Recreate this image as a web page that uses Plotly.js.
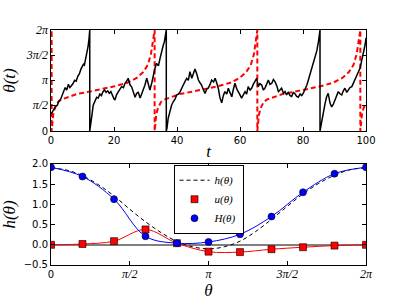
<!DOCTYPE html>
<html>
<head>
<meta charset="utf-8">
<script src="https://cdn.plot.ly/plotly-3.0.1.min.js"></script>
<style>
html,body{margin:0;padding:0;background:#fff;}
#chart{width:407px;height:305px;}
</style>
</head>
<body>
<div id="chart"></div>
<script>
// ---------- top panel: theta(t) ----------
const tBlack = [0,0.5,1.0,1.5,2.0,2.5,3.0,3.5,4.0,4.5,5.0,5.5,6.0,6.5,7.0,7.5,8.0,8.5,9.0,9.5,10.0,10.3,10.6,11.0,11.4,11.8,12.1,12.3,
  12.3,12.6,13.0,13.4,14.0,14.5,15.0,15.5,16.0,16.5,17.0,17.5,18.0,18.5,19.0,19.5,20.0,20.3,20.8,21.4,22.0,22.4,23.0,23.5,24.0,24.5,25.1,25.6,26.1,26.7,27.2,27.7,28.3,28.8,29.3,29.8,30.4,30.9,31.4,32.0,32.5,33.0,33.5,34.1,34.6,35.1,35.6,36.0,36.3,36.6,
  36.6,36.8,37.2,37.8,38.3,38.8,39.4,39.9,40.5,41.0,41.5,42.0,42.6,43.1,43.6,44.1,44.7,45.2,45.7,46.2,46.8,47.3,47.8,48.4,48.9,49.4,49.9,50.5,51.0,51.6,52.1,52.6,53.1,53.6,54.2,54.7,55.2,55.8,56.3,56.8,57.4,57.9,58.4,59.0,59.5,60.0,60.5,61.1,61.6,62.1,62.6,63.2,63.7,64.2,64.8,65.3,65.8,66.3,66.9,67.4,67.9,68.5,69.0,69.5,70.1,70.6,71.1,71.7,72.2,72.7,73.2,73.8,74.3,74.8,75.3,75.9,76.4,76.9,77.5,78.0,78.5,79.1,79.6,80.1,80.6,81.2,81.7,82.2,82.8,83.3,83.8,84.4,84.9,85.2,85.4,
  85.4,85.7,86.1,86.5,87.0,87.5,88.0,88.6,89.1,89.6,90.2,90.7,91.2,91.8,92.3,92.8,93.3,93.9,94.4,94.9,95.5,96.0,96.5,97.1,97.6,98.1,98.6,99.1,99.7,100];
const thetaBlack = [1.05,1.25,1.35,1.55,1.6,1.85,1.95,2.2,2.45,2.7,2.55,2.9,2.7,2.8,2.95,3.15,3.1,3.4,3.55,3.85,4.0,4.15,4.1,4.5,4.85,5.3,5.8,6.28,
  0,0.35,1.0,1.6,1.9,2.1,2.05,2.3,2.2,2.45,2.55,2.4,2.5,2.35,2.45,2.2,2.0,1.93,2.25,2.45,2.6,2.76,2.7,2.97,3.1,3.28,2.86,2.75,2.45,2.1,2.35,2.4,2.05,2.3,2.55,2.85,3.28,2.9,2.55,3.0,3.5,3.9,4.21,4.05,4.5,5.0,5.3,5.56,5.9,6.28,
  0,0.17,0.79,1.31,1.62,1.82,2.0,2.24,2.3,2.45,2.7,2.86,3.1,3.28,3.15,3.69,3.28,3.6,3.85,3.6,3.17,3.0,2.86,2.55,2.34,2.6,2.66,2.9,3.17,3.05,3.28,3.0,2.66,2.1,1.75,2.2,2.45,2.3,2.66,2.4,2.13,2.6,2.97,2.6,2.45,2.25,2.05,2.3,2.45,2.3,2.76,2.55,2.66,2.9,3.07,3.28,2.76,2.95,2.86,2.55,2.66,2.9,3.17,2.9,2.97,3.2,3.07,2.8,2.45,2.55,2.66,2.35,2.45,2.25,2.4,2.2,2.15,2.4,2.3,2.15,2.1,2.3,2.2,2.35,2.55,2.85,3.17,3.5,3.9,4.2,4.52,5.0,5.56,5.95,6.28,
  0,0.37,0.8,1.2,1.7,2.13,2.34,1.72,1.5,1.65,2.0,2.2,2.45,2.3,2.24,2.5,2.66,2.4,2.55,2.7,2.76,3.0,3.28,3.5,3.69,3.9,4.31,4.7,5.35,5.8];
const tRed = [0,0.2,0.2,0.4,0.7,1.2,2.2,3.2,5.2,8.2,12.2,16.2,20.2,24.2,27.2,29.2,30.7,31.7,32.4,32.9,
  32.9,33.1,33.4,33.9,34.9,35.9,37.9,40.9,44.9,48.9,52.9,56.9,59.9,61.9,63.4,64.4,65.1,65.5,
  65.5,65.7,66.0,66.5,67.5,68.5,70.5,73.5,77.5,81.5,85.5,89.5,92.5,94.5,96.0,97.0,97.7,98.2,
  98.2,98.4,98.7,99.2,100];
const thetaRed = [5.9,6.28,0,0.5,1.0,1.4,1.8,1.95,2.1,2.3,2.45,2.6,2.78,3.0,3.3,3.65,4.1,4.75,5.6,6.28,
  0,0.5,1.0,1.4,1.8,1.95,2.1,2.3,2.45,2.6,2.78,3.0,3.3,3.65,4.1,4.75,5.6,6.28,
  0,0.5,1.0,1.4,1.8,1.95,2.1,2.3,2.45,2.6,2.78,3.0,3.3,3.65,4.1,4.75,5.6,6.28,
  0,0.5,1.0,1.4,1.75];
const tTicks = [0,20,40,60,80,100];

// ---------- bottom panel: h(theta) ----------
const thetaFine = [0,0.314,0.628,0.942,1.257,1.571,1.885,2.199,2.513,2.827,3.142,3.456,3.770,4.084,4.398,4.712,5.027,5.341,5.655,5.969,6.283];
const hVals = [1.90,1.85,1.71,1.49,1.21,0.88,0.57,0.30,0.08,-0.05,-0.10,-0.05,0.09,0.33,0.63,0.95,1.26,1.52,1.72,1.86,1.90];
const thetaPts = [0,0.628,1.257,1.885,2.513,3.142,3.770,4.398,5.027,5.655,6.283];
const uVals = [0.0,0.02,0.09,0.38,0.04,-0.17,-0.18,-0.11,-0.06,-0.02,0.0];
const HVals = [1.92,1.69,1.13,0.21,0.04,0.07,0.26,0.70,1.30,1.76,1.92];
const piTickVals = [0,1.5708,3.1416,4.7124,6.2832];
const piTickText = ['0','π/2','π','3π/2','2π'];

const serif = '"Liberation Serif", "DejaVu Serif", serif';
const sans = '"DejaVu Sans", sans-serif';
const mathTick = s => s === '0' ? s : '<span style="font-family:Liberation Serif;font-style:italic;font-size:12px">' + s + '</span>';

const traces = [
  {x: tRed, y: thetaRed, xaxis: 'x', yaxis: 'y', mode: 'lines', showlegend: false,
   line: {color: '#ff0000', width: 2, dash: '5px,3px'}},
  {x: tBlack, y: thetaBlack, xaxis: 'x', yaxis: 'y', mode: 'lines', showlegend: false,
   line: {color: '#000000', width: 1.5}},
  {x: thetaFine, y: hVals, xaxis: 'x2', yaxis: 'y2', mode: 'lines', name: 'h(θ)',
   line: {color: '#000000', width: 1, dash: '4px,3px', shape: 'spline'}},
  {x: thetaPts, y: uVals, xaxis: 'x2', yaxis: 'y2', mode: 'lines', showlegend: false,
   line: {color: '#ff0000', width: 1, shape: 'spline'}},
  {x: thetaPts, y: uVals, xaxis: 'x2', yaxis: 'y2', mode: 'markers', name: 'u(θ)',
   marker: {symbol: 'square', size: 7, color: '#ff0000', line: {color: '#000000', width: 0.6}}},
  {x: thetaPts, y: HVals, xaxis: 'x2', yaxis: 'y2', mode: 'lines', showlegend: false,
   line: {color: '#0000ff', width: 1, shape: 'spline'}},
  {x: thetaPts, y: HVals, xaxis: 'x2', yaxis: 'y2', mode: 'markers', name: 'H(θ)',
   marker: {symbol: 'circle', size: 7, color: '#0000ff', line: {color: '#000000', width: 0.6}}}
];

const axBase = {
  showgrid: false, zeroline: false, showline: true, linecolor: '#000', linewidth: 1,
  mirror: 'ticks', ticks: 'inside', ticklen: 4, tickwidth: 1, tickcolor: '#000',
  tickfont: {family: sans, size: 10, color: '#000'}
};

const layout = {
  width: 407, height: 305,
  margin: {l: 51, r: 41, t: 30, b: 40},
  paper_bgcolor: '#fff', plot_bgcolor: '#fff',
  showlegend: true,
  xaxis: Object.assign({}, axBase, {domain: [0, 1], anchor: 'y', range: [0, 100],
    tickvals: tTicks, ticktext: tTicks.map(String),
    title: {text: 't', font: {family: serif, size: 17, style: 'italic', color: '#000'}, standoff: 0}}),
  yaxis: Object.assign({}, axBase, {domain: [0.5702, 1], anchor: 'x', range: [0, 6.2832],
    tickvals: piTickVals, ticktext: piTickText.map(mathTick),
    title: {text: 'θ(t)', font: {family: serif, size: 17, style: 'italic', color: '#000'}, standoff: 6}}),
  xaxis2: Object.assign({}, axBase, {domain: [0, 1], anchor: 'y2', range: [0, 6.2832],
    tickvals: piTickVals, ticktext: piTickText.map(mathTick),
    title: {text: 'θ', font: {family: serif, size: 17, style: 'italic', color: '#000'}, standoff: 2}}),
  yaxis2: Object.assign({}, axBase, {domain: [0, 0.4298], anchor: 'x2', range: [-0.5, 2.0],
    dtick: 0.5, tick0: 0, tickformat: '.1f',
    zeroline: true, zerolinecolor: '#808080', zerolinewidth: 2,
    title: {text: 'h(θ)', font: {family: serif, size: 17, style: 'italic', color: '#000'}, standoff: 4}}),
  legend: {
    x: 0.5, y: 0.4268, xanchor: 'center', yanchor: 'top',
    bgcolor: '#fff', bordercolor: '#000', borderwidth: 1,
    font: {family: serif, size: 11, style: 'italic', color: '#000'},
    tracegroupgap: 0, itemwidth: 30
  }
};

Plotly.newPlot('chart', traces, layout, {displayModeBar: false, staticPlot: true});
</script>
</body>
</html>
